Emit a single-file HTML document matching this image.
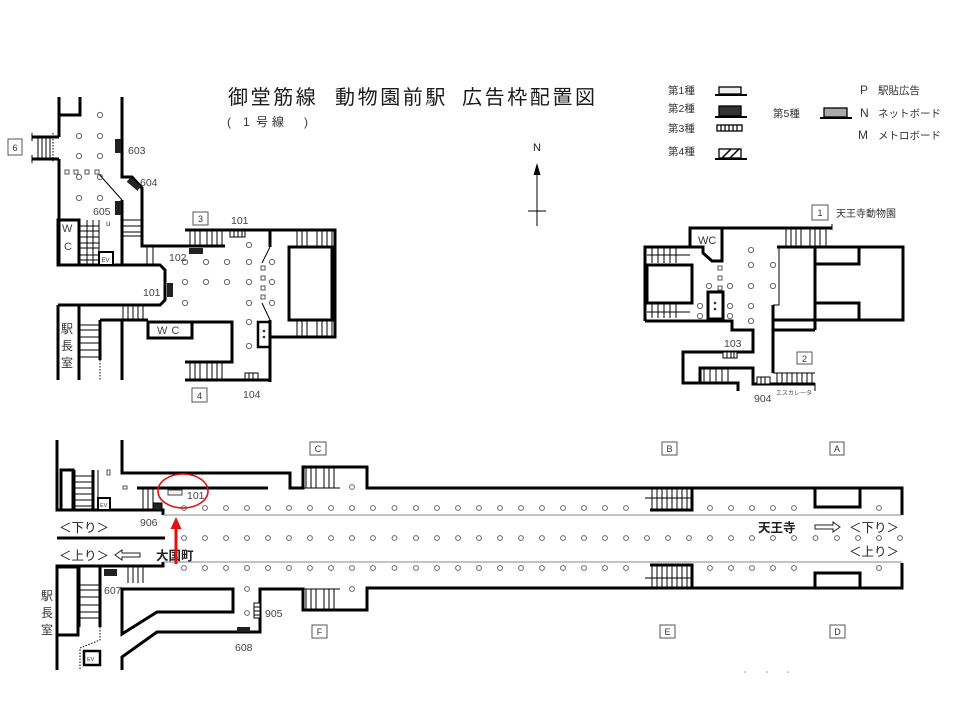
<!DOCTYPE html>
<html><head><meta charset="utf-8"><style>
html,body{margin:0;padding:0;background:#fff;}
svg{display:block;}
text{font-family:"Liberation Sans","Noto Sans CJK JP",sans-serif;}
</style></head><body>
<svg width="960" height="720" viewBox="0 0 960 720" xmlns="http://www.w3.org/2000/svg">
<rect width="960" height="720" fill="#fff"/>

<!-- Title -->
<g fill="#1a1a1a" font-size="20" letter-spacing="2.6">
<text x="228" y="104">御堂筋線</text>
<text x="335" y="104">動物園前駅</text>
<text x="462" y="104">広告枠配置図</text>
</g>
<g fill="#333" font-size="12">
<text x="227" y="126">(</text><text x="243" y="126">1</text><text x="256" y="126">号</text><text x="272" y="126">線</text><text x="304" y="126">)</text>
</g>

<!-- North arrow -->
<text x="537" y="151" font-size="11" text-anchor="middle" fill="#222">N</text>
<line x1="537" y1="170" x2="537" y2="226" stroke="#000" stroke-width="1"/>
<line x1="528" y1="211" x2="546" y2="211" stroke="#000" stroke-width="1"/>
<polygon points="537,163 533.5,175 540.5,175" fill="#000"/>

<!-- Legend -->
<g font-size="10.5" fill="#333">
<text x="668" y="94">第1種</text>
<text x="668" y="112">第2種</text>
<text x="668" y="132">第3種</text>
<text x="668" y="155">第4種</text>
<text x="773" y="117">第5種</text>
<text x="860" y="94" font-size="12">P</text><text x="878" y="94">駅貼広告</text>
<text x="860" y="117" font-size="12">N</text><text x="878" y="117">ネットボード</text>
<text x="858" y="139" font-size="12">M</text><text x="878" y="139">メトロボード</text>
</g>
<g stroke="#000">
<rect x="719" y="87" width="22" height="7" fill="#eee" stroke-width="1.3"/>
<line x1="715" y1="95" x2="747" y2="95" stroke-width="2"/>
<rect x="719" y="106" width="22" height="10" fill="#333" stroke-width="1.3"/>
<line x1="715" y1="117" x2="747" y2="117" stroke-width="2"/>
<rect x="717" y="125" width="25" height="6" fill="#fff" stroke-width="1.3"/>
<path d="M721,125V131M725,125V131M729,125V131M733,125V131M737,125V131" stroke-width="1.2"/>
<rect x="719" y="149" width="22" height="9" fill="#fff" stroke-width="1.3"/>
<path d="M722,158L731,149M730,158L739,149" stroke-width="1.5"/>
<line x1="715" y1="159" x2="747" y2="159" stroke-width="2"/>
<rect x="824" y="108" width="23" height="9" fill="#aaa" stroke-width="1.3"/>
<line x1="820" y1="118" x2="852" y2="118" stroke-width="2"/>
</g>

<!-- ============ TOP-LEFT PLAN ============ -->
<g stroke="#000" stroke-width="3" fill="none" stroke-linejoin="miter">
<path d="M59,97V115H80V97"/>
<path d="M59,115V137M59,159V265"/>
<path d="M32,137H59M32,159H59"/>
<path d="M122,97V177H132L142,188V246H225"/>
<path d="M185,230H335V337H270"/>
<rect x="289" y="247" width="43" height="73"/>
<path d="M270,230V247M270,320V382"/>
<path d="M122,200V265"/>
<rect x="58" y="220" width="21" height="45"/>
<path d="M58,265H160L165,270V300L160,305H58"/>
<path d="M58,305V380M79,305V380M100,320V360M122,320V380M100,320H148"/>
<rect x="148" y="322" width="44" height="16"/>
<path d="M192,322H232V362H185M185,380H270"/>
<rect x="258" y="322" width="12" height="25" stroke-width="2.5"/>
</g>
<g stroke="#000" stroke-width="1" fill="none">
<path d="M32,133V141M32,155V163M38,137V159M42,137V159M46,137V159M50,137V159"/>
<path d="M53,133V163" stroke-dasharray="1.5,1.5"/>
<path d="M98,173L122,200"/>
<path d="M87,220V265M93,220V265M99,220V265M80,226H99M80,231H99M80,237H99M80,243H99M80,248H99M80,255H99M80,260H99"/>
<path d="M122,220H142M122,226H142M122,232H142M122,236H142"/>
<path d="M147,247V265M153,247V265"/>
<path d="M123,305V320M128,305V320M133,305V320M138,305V320M143,305V320"/>
<path d="M80,325H100M80,330H100M80,337H100M80,343H100M80,350H100M80,357H100"/>
<path d="M100,360V380" stroke-dasharray="1.5,1.5"/>
<path d="M190,230V246M195,230V246M200,230V246M207,230V246M212,230V246M217,230V246M222,230V246"/>
<path d="M190,362V380M195,362V380M200,362V380M207,362V380M212,362V380M217,362V380M222,362V380"/>
<path d="M297,230V247M302,230V247M307,230V247M317,230V247M322,230V247M327,230V247M332,230V247"/>
<path d="M297,320V337M302,320V337M307,320V337M317,320V337M322,320V337M327,320V337M332,320V337"/>
<path d="M270,247L262,263M262,303L270,320"/>
</g>
<rect x="99" y="252" width="14" height="13" fill="#fff" stroke="#000" stroke-width="2"/>
<text x="101.5" y="262" font-size="6" fill="#333">EV</text>
<!-- small squares -->
<g fill="#fff" stroke="#555" stroke-width="1">
<rect x="65" y="170" width="4" height="4"/><rect x="74" y="170" width="4" height="4"/><rect x="85" y="170" width="4" height="4"/><rect x="95" y="170" width="4" height="4"/>
<rect x="261" y="266" width="4" height="4"/><rect x="261" y="276" width="4" height="4"/><rect x="261" y="286" width="4" height="4"/><rect x="261" y="295" width="4" height="4"/>
</g>
<circle cx="264" cy="331" r="1.3" fill="#333"/><circle cx="264" cy="337" r="1.3" fill="#333"/>
<!-- circles top-left -->
<g fill="none" stroke="#666" stroke-width="1">
<circle cx="100" cy="115" r="2.6"/><circle cx="79" cy="136" r="2.6"/><circle cx="100" cy="136" r="2.6"/>
<circle cx="79" cy="156" r="2.6"/><circle cx="100" cy="156" r="2.6"/><circle cx="79" cy="177" r="2.6"/><circle cx="100" cy="177" r="2.6"/>
<circle cx="79" cy="198" r="2.6"/><circle cx="100" cy="198" r="2.6"/>
<circle cx="185" cy="262" r="2.6"/><circle cx="206" cy="262" r="2.6"/><circle cx="227" cy="262" r="2.6"/><circle cx="249" cy="262" r="2.6"/><circle cx="272" cy="262" r="2.6"/>
<circle cx="185" cy="282" r="2.6"/><circle cx="206" cy="282" r="2.6"/><circle cx="227" cy="282" r="2.6"/><circle cx="249" cy="282" r="2.6"/><circle cx="272" cy="282" r="2.6"/>
<circle cx="185" cy="303" r="2.6"/><circle cx="249" cy="303" r="2.6"/><circle cx="272" cy="303" r="2.6"/>
<circle cx="249" cy="245" r="2.6"/><circle cx="249" cy="322" r="2.6"/><circle cx="249" cy="346" r="2.6"/>
</g>
<!-- ad markers -->
<g fill="#222">
<rect x="115" y="139" width="6" height="14"/>
<rect x="115" y="201" width="6" height="14"/>
<rect x="127" y="181" width="14" height="6" transform="rotate(40 134 184)"/>
<rect x="189" y="248" width="14" height="6"/>
<rect x="167" y="283" width="6" height="14"/>
</g>
<g stroke="#000" stroke-width="1" fill="#fff">
<rect x="230" y="231" width="15" height="6"/>
<path d="M234,231V237M238,231V237M242,231V237"/>
<rect x="245" y="373" width="13" height="6"/>
<path d="M249,373V379M253,373V379"/>
</g>
<g font-size="10.5" fill="#444">
<text x="128" y="154">603</text>
<text x="140" y="186">604</text>
<text x="93" y="215">605</text>
<text x="106" y="226" font-size="8">u</text>
<text x="231" y="224">101</text>
<text x="169" y="261">102</text>
<text x="143" y="296">101</text>
<text x="243" y="398">104</text>
<text x="62" y="232" font-size="11">W</text><text x="64" y="250" font-size="11">C</text>
<text x="157" y="334" font-size="11" letter-spacing="4">WC</text>
</g>
<g font-size="12" fill="#333">
<text x="61" y="333">駅</text><text x="61" y="350">長</text><text x="61" y="367">室</text>
</g>
<g fill="#fff" stroke="#555" stroke-width="1">
<rect x="8" y="139" width="14" height="16"/>
<rect x="193" y="212" width="15" height="13"/>
<rect x="192" y="388" width="15" height="14"/>
</g>
<g font-size="9" fill="#333" text-anchor="middle">
<text x="15" y="151">6</text><text x="200.5" y="222">3</text><text x="199.5" y="399">4</text>
</g>

<!-- ============ TOP-RIGHT PLAN ============ -->
<g stroke="#000" stroke-width="3" fill="none">
<path d="M690,247V228H832"/>
<path d="M645,321V247H703V253L712,261H722V228"/>
<rect x="647" y="265" width="45" height="38"/>
<path d="M645,321H732V330H753V352H683V383H738V391"/>
<path d="M700,383V368H753V384H815"/>
<path d="M777,247H903V320H773M773,305V373M773,330H815M815,247V330"/>
<path d="M815,264H859V247M815,303H859V320"/>
<rect x="708" y="292" width="15" height="27"/>
</g>
<g stroke="#000" stroke-width="1" fill="none">
<path d="M779,247V305H773"/>
<path d="M832,224V230"/>
<path d="M786,228V247M791,228V247M796,228V247M801,228V247M810,228V247M815,228V247M820,228V247M826,228V247"/>
<path d="M647,255H690M652,248V263M658,248V263M664,248V263M670,248V263M676,248V263"/>
<path d="M647,312H690M652,304V318M658,304V318M664,304V318M670,304V318M676,304V318"/>
<path d="M704,368V383M710,368V383M716,368V383M722,368V383M728,368V383"/>
<path d="M773,373H815M777,373V383M782,373V383M787,373V383M792,373V383M797,373V383M802,373V383M807,373V383M812,373V383"/>
<path d="M815,383V391"/>
</g>
<g stroke="#000" stroke-width="1" fill="#fff">
<rect x="723" y="352" width="14" height="6"/>
<path d="M727,352V358M731,352V358M734,352V358"/>
<rect x="757" y="377" width="13" height="7"/>
<path d="M761,377V384M765,377V384"/>
</g>
<g fill="#fff" stroke="#555" stroke-width="1">
<rect x="718" y="266" width="4" height="4"/><rect x="718" y="276" width="4" height="4"/><rect x="718" y="286" width="4" height="4"/>
</g>
<circle cx="715" cy="303" r="1.3" fill="#333"/><circle cx="715" cy="309" r="1.3" fill="#333"/>
<g fill="none" stroke="#666" stroke-width="1">
<circle cx="751" cy="250" r="2.6"/><circle cx="751" cy="265" r="2.6"/><circle cx="773" cy="265" r="2.6"/>
<circle cx="709" cy="286" r="2.6"/><circle cx="730" cy="286" r="2.6"/><circle cx="751" cy="286" r="2.6"/><circle cx="773" cy="286" r="2.6"/>
<circle cx="700" cy="306" r="2.6"/><circle cx="730" cy="306" r="2.6"/><circle cx="751" cy="306" r="2.6"/>
<circle cx="700" cy="316" r="2.6"/><circle cx="730" cy="316" r="2.6"/><circle cx="751" cy="321" r="2.6"/>
</g>
<g font-size="10.5" fill="#444">
<text x="698" y="244" font-size="11" fill="#333">WC</text>
<text x="724" y="347">103</text>
<text x="754" y="402">904</text>
<text x="776" y="395" font-size="6">エスカレータ</text>
<text x="836" y="217" font-size="10" fill="#333">天王寺動物園</text>
</g>
<g fill="#fff" stroke="#555" stroke-width="1">
<rect x="812" y="205" width="16" height="15"/>
<rect x="797" y="352" width="15" height="12"/>
</g>
<g font-size="9" fill="#333" text-anchor="middle">
<text x="820" y="216">1</text><text x="804.5" y="362">2</text>
</g>

<!-- ============ PLATFORM ============ -->
<g stroke="#000" stroke-width="3" fill="none">
<path d="M57,440V510H163V515"/>
<path d="M122,440V473H290V488H303V467H367V488H902V515"/>
<path d="M137,488H268"/>
<path d="M57,538H165"/>
<path d="M57,670V566H163V562"/>
<path d="M902,563V588H367V610H303V589H260V632H157L122,657V670"/>
<path d="M122,589H233V612H157L122,634Z"/>
<path d="M692,488V510H650"/>
<path d="M692,588V565H650"/>
<path d="M815,488V507H860V488"/>
<path d="M815,588V573H860V588"/>
<rect x="61" y="470" width="12" height="40"/>
<path d="M93,470V510"/>
<rect x="57" y="567" width="21" height="68"/>
<path d="M100,567V627"/>
</g>
<g stroke="#000" stroke-width="1" fill="none">
<path d="M163,515H902" stroke="#888"/>
<path d="M163,562H902" stroke="#888"/>
<path d="M303,488H340M306,468V488M311,468V488M316,468V488M324,468V488M329,468V488M334,468V488"/>
<path d="M303,589H340M306,589V609M311,589V609M316,589V609M324,589V609M329,589V609M334,589V609"/>
<path d="M645,498H692M652,488V509M657,488V509M662,488V509M667,488V509M672,488V509M677,488V509M682,488V509M687,488V509"/>
<path d="M645,578H692M652,566V588M657,566V588M662,566V588M667,566V588M672,566V588M677,566V588M682,566V588M687,566V588"/>
<path d="M75,470V510M75,476H93M75,482H93M75,488H93M75,494H93M75,500H93M75,506H93"/>
<path d="M98,470V498"/>
<path d="M143,488V510M148,488V510M153,488V503"/>
<path d="M80,567V627M80,585H100M80,590H100M80,597H100M80,605H100M80,612H100M80,618H100"/>
<path d="M128,567V583M133,567V583M138,567V583M143,567V583"/>
<path d="M100,627V640L80,648V670" stroke-dasharray="1.5,1.5"/>
</g>
<rect x="98" y="498" width="12" height="12" fill="#fff" stroke="#000" stroke-width="2"/>
<text x="100" y="507" font-size="5.5" fill="#333">EV</text>
<rect x="84" y="651" width="16" height="14" fill="#fff" stroke="#000" stroke-width="2.5"/>
<text x="87" y="661" font-size="5.5" fill="#333">EV</text>
<g fill="#fff" stroke="#555" stroke-width="1">
<rect x="107" y="470" width="3" height="5"/>
<rect x="123" y="486" width="4" height="3"/>
</g>
<!-- markers -->
<rect x="168" y="490" width="14" height="5" fill="#f2f2f2" stroke="#444" stroke-width="1"/>
<g stroke="#000" stroke-width="1" fill="#fff">
<rect x="153" y="503" width="9" height="7" fill="#222"/>
<rect x="254" y="603" width="6" height="15"/>
<path d="M254,607H260M254,611H260M254,615H260"/>
</g>
<rect x="104" y="569" width="13" height="7" fill="#222"/>
<rect x="237" y="627" width="13" height="5" fill="#222"/>
<!-- platform circles -->
<g fill="none" stroke="#666" stroke-width="1">
<circle cx="184" cy="508" r="2.4"/><circle cx="205" cy="508" r="2.4"/><circle cx="226" cy="508" r="2.4"/><circle cx="247" cy="508" r="2.4"/><circle cx="268" cy="508" r="2.4"/><circle cx="289" cy="508" r="2.4"/><circle cx="310" cy="508" r="2.4"/><circle cx="331" cy="508" r="2.4"/><circle cx="352" cy="508" r="2.4"/><circle cx="373" cy="508" r="2.4"/><circle cx="394.5" cy="508" r="2.4"/><circle cx="416" cy="508" r="2.4"/><circle cx="437" cy="508" r="2.4"/><circle cx="458" cy="508" r="2.4"/><circle cx="479" cy="508" r="2.4"/><circle cx="500" cy="508" r="2.4"/><circle cx="521" cy="508" r="2.4"/><circle cx="542" cy="508" r="2.4"/><circle cx="563" cy="508" r="2.4"/><circle cx="584" cy="508" r="2.4"/><circle cx="605" cy="508" r="2.4"/><circle cx="626" cy="508" r="2.4"/>
<circle cx="710" cy="508" r="2.4"/><circle cx="731" cy="508" r="2.4"/><circle cx="752" cy="508" r="2.4"/><circle cx="773" cy="508" r="2.4"/><circle cx="794" cy="508" r="2.4"/><circle cx="879" cy="508" r="2.4"/>
<circle cx="184" cy="568" r="2.4"/><circle cx="205" cy="568" r="2.4"/><circle cx="226" cy="568" r="2.4"/><circle cx="247" cy="568" r="2.4"/><circle cx="268" cy="568" r="2.4"/><circle cx="289" cy="568" r="2.4"/><circle cx="310" cy="568" r="2.4"/><circle cx="331" cy="568" r="2.4"/><circle cx="352" cy="568" r="2.4"/><circle cx="373" cy="568" r="2.4"/><circle cx="394.5" cy="568" r="2.4"/><circle cx="416" cy="568" r="2.4"/><circle cx="437" cy="568" r="2.4"/><circle cx="458" cy="568" r="2.4"/><circle cx="479" cy="568" r="2.4"/><circle cx="500" cy="568" r="2.4"/><circle cx="521" cy="568" r="2.4"/><circle cx="542" cy="568" r="2.4"/><circle cx="563" cy="568" r="2.4"/><circle cx="584" cy="568" r="2.4"/><circle cx="605" cy="568" r="2.4"/><circle cx="626" cy="568" r="2.4"/>
<circle cx="710" cy="568" r="2.4"/><circle cx="731" cy="568" r="2.4"/><circle cx="752" cy="568" r="2.4"/><circle cx="773" cy="568" r="2.4"/><circle cx="794" cy="568" r="2.4"/><circle cx="879" cy="568" r="2.4"/>
<circle cx="184" cy="538" r="2.4"/><circle cx="205" cy="538" r="2.4"/><circle cx="226" cy="538" r="2.4"/><circle cx="247" cy="538" r="2.4"/><circle cx="268" cy="538" r="2.4"/><circle cx="289" cy="538" r="2.4"/><circle cx="310" cy="538" r="2.4"/><circle cx="331" cy="538" r="2.4"/><circle cx="352" cy="538" r="2.4"/><circle cx="373" cy="538" r="2.4"/><circle cx="394.5" cy="538" r="2.4"/><circle cx="416" cy="538" r="2.4"/><circle cx="437" cy="538" r="2.4"/><circle cx="458" cy="538" r="2.4"/><circle cx="479" cy="538" r="2.4"/><circle cx="500" cy="538" r="2.4"/><circle cx="521" cy="538" r="2.4"/><circle cx="542" cy="538" r="2.4"/><circle cx="563" cy="538" r="2.4"/><circle cx="584" cy="538" r="2.4"/><circle cx="605" cy="538" r="2.4"/><circle cx="626" cy="538" r="2.4"/><circle cx="647" cy="538" r="2.4"/><circle cx="668" cy="538" r="2.4"/><circle cx="689" cy="538" r="2.4"/><circle cx="710" cy="538" r="2.4"/><circle cx="731" cy="538" r="2.4"/><circle cx="752" cy="538" r="2.4"/><circle cx="773" cy="538" r="2.4"/><circle cx="794" cy="538" r="2.4"/><circle cx="815.5" cy="538" r="2.4"/><circle cx="837" cy="538" r="2.4"/><circle cx="858" cy="538" r="2.4"/><circle cx="879" cy="538" r="2.4"/><circle cx="900" cy="538" r="2.4"/>
<circle cx="352" cy="487" r="2.4"/><circle cx="352" cy="589" r="2.4"/>
<circle cx="247" cy="589" r="2.4"/><circle cx="247" cy="613" r="2.4"/>
</g>
<!-- platform labels -->
<g font-size="10.5" fill="#444">
<text x="187" y="499">101</text>
<text x="140" y="526">906</text>
<text x="104" y="594">607</text>
<text x="235" y="651">608</text>
<text x="265" y="617">905</text>
</g>
<g font-size="12.5" fill="#222">
<text x="59" y="532">＜下り＞</text>
<text x="59" y="560">＜上り＞</text>
<text x="156" y="560" font-weight="bold">大国町</text>
<text x="758" y="532" font-weight="bold">天王寺</text>
<text x="849" y="532">＜下り＞</text>
<text x="849" y="556">＜上り＞</text>
</g>
<g font-size="12" fill="#333">
<text x="41" y="600">駅</text><text x="41" y="617">長</text><text x="41" y="634">室</text>
</g>
<polygon points="115,555 122,550 122,553 140,553 140,557 122,557 122,560" fill="#fff" stroke="#222" stroke-width="1"/>
<polygon points="840,527 833,522 833,525 815,525 815,529 833,529 833,532" fill="#fff" stroke="#222" stroke-width="1"/>
<g fill="#fff" stroke="#555" stroke-width="1">
<rect x="310" y="442" width="16" height="13"/>
<rect x="662" y="442" width="15" height="13"/>
<rect x="830" y="442" width="14" height="13"/>
<rect x="312" y="625" width="15" height="13"/>
<rect x="660" y="625" width="15" height="13"/>
<rect x="830" y="625" width="15" height="13"/>
</g>
<g font-size="9" fill="#333" text-anchor="middle">
<text x="318" y="452">C</text><text x="669.5" y="452">B</text><text x="837" y="452">A</text>
<text x="319.5" y="635">F</text><text x="667.5" y="635">E</text><text x="837.5" y="635">D</text>
</g>
<g fill="#999"><circle cx="745" cy="672" r="0.8"/><circle cx="767" cy="672" r="0.8"/><circle cx="788" cy="672" r="0.8"/></g>

<!-- Red highlight -->
<ellipse cx="183" cy="491" rx="25" ry="17" fill="none" stroke="#e01010" stroke-width="1.6"/>
<line x1="176" y1="564" x2="176" y2="526" stroke="#e01010" stroke-width="3"/>
<polygon points="176,517 170.5,529 181.5,529" fill="#e01010"/>
</svg>
</body></html>
